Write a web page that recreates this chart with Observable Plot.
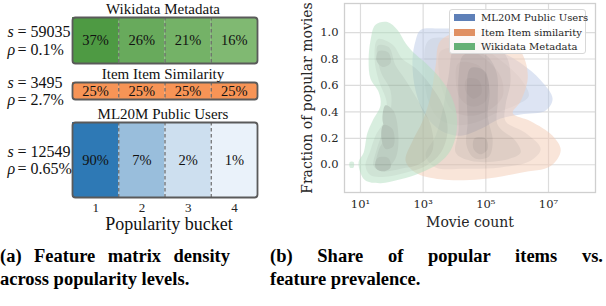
<!DOCTYPE html>
<html><head><meta charset="utf-8">
<script src="https://cdn.jsdelivr.net/npm/d3@7"></script>
<script src="https://cdn.jsdelivr.net/npm/@observablehq/plot@0.6"></script>
<style>
body{margin:0;background:#fff;}
#fig{position:relative;width:606px;height:306px;overflow:hidden;font-family:'Liberation Serif','Times New Roman',serif;background:#fff;}
.abs{position:absolute;}
.cap{position:absolute;font-family:'Liberation Serif','Times New Roman',serif;font-weight:bold;font-size:18.5px;line-height:23px;color:#000;}
.cap .l1{text-align:justify;text-align-last:justify;white-space:nowrap;}
#legend{position:absolute;left:449px;top:9px;width:137px;height:45px;border:1px solid #d8d8d8;border-radius:3px;background:rgba(255,255,255,0.85);font-family:'DejaVu Serif',serif;font-size:10px;color:#262626;box-sizing:border-box;}
#legend .row{position:absolute;left:4px;height:14px;line-height:14px;white-space:nowrap;}
#legend .sw{display:inline-block;width:21px;height:7px;vertical-align:middle;margin-right:6px;margin-top:-2px;}
</style></head><body><div id="fig"></div>
<script>
// ---------- data: panel (a) ----------
const buckets = [1, 2, 3, 4];
const rowTitles = ["Wikidata Metadata", "Item Item Similarity", "ML20M Public Users"];
const rowSizes = [59035, 3495, 12549];
const rowDensities = ["0.1%", "2.7%", "0.65%"];
const wikidataShares = [37, 26, 21, 16];
const itemShares = [25, 25, 25, 25];
const ml20mShares = [90, 7, 2, 1];

// ---------- data: panel (b) (contours: [log10 movie count, fraction]) ----------
const seriesNames = ["ML20M Public Users", "Item Item similarity", "Wikidata Metadata"];
const xTickValues = [10, 1e3, 1e5, 1e7];
const yTickValues = [0, 0.2, 0.4, 0.6, 0.8, 1.0];
const ml20mContours = [
  {level: 0, points: [[2.92,1.02],[3.56,1.03],[4.19,1.02],[4.83,0.95],[5.47,0.86],[6.11,0.77],[6.75,0.64],[7.13,0.50],[6.91,0.41],[6.11,0.38],[5.47,0.35],[4.83,0.27],[4.19,0.22],[3.56,0.26],[3.08,0.37],[2.76,0.56],[2.66,0.79],[2.76,0.94]]},
  {level: 1, points: [[3.17,0.94],[4.04,0.95],[4.77,0.90],[5.47,0.79],[6.11,0.65],[6.37,0.52],[5.95,0.45],[5.31,0.39],[4.67,0.32],[4.04,0.30],[3.49,0.35],[3.17,0.48],[3.04,0.71]]},
  {level: 2, points: [[3.56,0.86],[4.35,0.88],[4.99,0.80],[5.47,0.67],[5.54,0.52],[5.15,0.42],[4.51,0.37],[3.94,0.41],[3.62,0.56],[3.49,0.73]]},
  {level: 3, points: [[4.13,0.77],[4.77,0.75],[5.09,0.62],[4.99,0.48],[4.58,0.44],[4.19,0.50],[4.04,0.64]]},
  {level: 4, points: [[4.39,0.65],[4.77,0.64],[4.86,0.54],[4.61,0.50],[4.35,0.56]]}
];
const itemContours = [
  {level: 0, points: [[3.56,0.94],[4.51,1.02],[5.47,0.98],[6.11,0.86],[6.34,0.67],[6.11,0.48],[5.86,0.39],[6.43,0.33],[7.13,0.22],[7.39,0.11],[7.07,-0.01],[6.11,-0.06],[4.83,-0.11],[3.56,-0.11],[2.76,-0.06],[2.44,0.03],[2.66,0.18],[2.98,0.33],[3.24,0.52],[3.40,0.75]]},
  {level: 1, points: [[4.04,0.90],[4.99,0.92],[5.63,0.83],[5.79,0.64],[5.63,0.45],[5.63,0.33],[6.27,0.24],[6.75,0.12],[6.43,0.03],[5.47,-0.02],[4.35,-0.03],[3.40,-0.02],[3.08,0.07],[3.40,0.22],[3.62,0.41],[3.81,0.67]]},
  {level: 2, points: [[4.29,0.83],[4.99,0.83],[5.34,0.70],[5.38,0.48],[5.38,0.30],[5.95,0.18],[6.11,0.09],[5.47,0.03],[4.51,0.03],[4.04,0.09],[4.13,0.26],[4.13,0.48],[4.13,0.67]]},
  {level: 3, points: [[4.51,0.73],[4.96,0.71],[5.12,0.56],[5.06,0.37],[5.22,0.18],[5.09,0.06],[4.64,0.05],[4.39,0.14],[4.42,0.33],[4.39,0.55]]},
  {level: 4, points: [[4.64,0.20],[4.99,0.20],[5.06,0.12],[4.83,0.08],[4.61,0.12]]}
];
const wikidataContours = [
  {level: 0, points: [[1.48,1.06],[1.86,1.08],[2.18,1.02],[2.44,0.92],[2.69,0.85],[3.08,0.77],[3.49,0.67],[3.81,0.56],[4.04,0.42],[4.07,0.26],[3.88,0.11],[3.49,0.01],[2.92,-0.06],[2.28,-0.11],[1.64,-0.14],[1.16,-0.12],[1.00,-0.06],[0.94,0.02],[1.10,0.09],[1.22,0.24],[1.38,0.33],[1.64,0.45],[1.58,0.55],[1.32,0.65],[1.26,0.79],[1.32,0.94]]},
  {level: 0, points: [[0.66,0.02],[0.78,0.02],[0.78,-0.02],[0.66,-0.02]]},
  {level: 1, points: [[1.55,0.95],[2.02,0.91],[2.34,0.80],[2.76,0.73],[3.24,0.60],[3.62,0.45],[3.78,0.26],[3.56,0.09],[3.08,-0.01],[2.44,-0.06],[1.80,-0.09],[1.32,-0.08],[1.16,-0.01],[1.32,0.11],[1.48,0.22],[1.80,0.35],[1.83,0.48],[1.58,0.64],[1.45,0.80]]},
  {level: 2, points: [[1.55,0.90],[1.90,0.89],[2.12,0.75],[2.44,0.64],[2.85,0.48],[3.24,0.30],[3.30,0.11],[2.92,0.01],[2.28,-0.03],[1.70,-0.05],[1.42,-0.01],[1.51,0.11],[1.73,0.26],[1.96,0.41],[1.96,0.56],[1.64,0.71]]},
  {level: 3, points: [[1.58,0.86],[1.89,0.85],[1.96,0.77],[1.70,0.74],[1.51,0.79]]},
  {level: 3, points: [[1.80,0.45],[2.05,0.41],[2.21,0.22],[2.12,0.05],[1.80,-0.03],[1.51,-0.01],[1.58,0.11],[1.80,0.22],[1.70,0.35]]},
  {level: 4, points: [[1.54,0.05],[1.89,0.05],[1.96,-0.02],[1.70,-0.05],[1.48,-0.02]]},
  {level: 4, points: [[1.73,0.30],[2.02,0.27],[2.05,0.14],[1.80,0.12],[1.67,0.20]]}
];

const SERIF = "Liberation Serif";
const fig = document.getElementById("fig");
function place(node, left, top) {
  const d = document.createElement("div");
  d.className = "abs"; d.style.left = left + "px"; d.style.top = top + "px";
  d.appendChild(node); fig.appendChild(d); return d;
}

// ---------- panel (a) ----------
function rowPlot(i, shares, fillOpt, colorOpt, top, marginTop, barH, marginBottom, showAxis) {
  const data = buckets.map((b, j) => ({bucket: b, share: shares[j]}));
  const T = {fontFamily: SERIF, fill: "#111"};
  const marks = [
    Plot.rect(data, {x1: d => d.bucket - 0.5, x2: d => d.bucket + 0.5, fill: fillOpt}),
    Plot.ruleX(buckets.slice(1), {x: d => d - 0.5, stroke: "#6a6a6a", strokeWidth: 1.2, strokeDasharray: "3.5,2.5"}),
    Plot.text(data, {...T, x: "bucket", text: d => d.share + "%", frameAnchor: "middle", fontSize: 14.5}),
    Plot.frame({stroke: "#5a5a5a", strokeWidth: 1.8, rx: 3}),
    Plot.text([rowTitles[i]], {...T, frameAnchor: "top", dx: -2, dy: -4, lineAnchor: "bottom", fontSize: 15}),
    Plot.text(["s"], {...T, frameAnchor: "left", dx: -65, dy: -8.5, textAnchor: "start", fontStyle: "italic", fontSize: 16}),
    Plot.text(["= " + rowSizes[i]], {...T, frameAnchor: "left", dx: -55, dy: -8.5, textAnchor: "start", fontSize: 16}),
    Plot.text(["ρ"], {...T, frameAnchor: "left", dx: -65, dy: 9, textAnchor: "start", fontStyle: "italic", fontSize: 16}),
    Plot.text(["= " + rowDensities[i]], {...T, frameAnchor: "left", dx: -55, dy: 9, textAnchor: "start", fontSize: 16})
  ];
  if (showAxis) {
    marks.push(Plot.axisX(buckets, {tickSize: 0, tickPadding: 5, fontSize: 13, fontFamily: SERIF, label: null, tickFormat: d => String(d), fill: "#222"}));
    marks.push(Plot.text(["Popularity bucket"], {...T, frameAnchor: "bottom", dx: 4, dy: 27, lineAnchor: "middle", fontSize: 18}));
  }
  const p = Plot.plot({
    width: 300, height: marginTop + barH + marginBottom,
    marginLeft: 72, marginRight: 43, marginTop, marginBottom,
    style: {fontFamily: SERIF, fontSize: "13px", background: "transparent", overflow: "visible"},
    x: {domain: [0.5, 4.5], axis: null},
    color: colorOpt,
    marks
  });
  place(p, 0, top);
}
rowPlot(0, wikidataShares, "share", {type: "linear", domain: [16, 37], range: ["#80b972", "#4e9a43"]}, 0, 17, 46, 0, false);
rowPlot(1, itemShares, "#f79456", undefined, 63, 19, 17, 0, false);
rowPlot(2, ml20mShares, "share", {type: "log", domain: [1, 90], range: ["#eaf2fa", "#2e79b5"]}, 99, 23, 75, 45, true);

// ---------- panel (b) ----------
const RSERIF = "DejaVu Serif";
const baseColors = ["#4c72b0", "#dd8452", "#55a868"];
const rampEnds = [["#bccbe8", "#6d7893"], ["#f4ccb5", "#907466"], ["#b2dfc0", "#6d8b75"]];
const groups = [ml20mContours, itemContours, wikidataContours];
const sup = {"1": "¹", "3": "³", "5": "⁵", "7": "⁷"};
const kdeMarks = [];
groups.forEach((g, gi) => {
  const interp = d3.interpolateHcl(rampEnds[gi][0], rampEnds[gi][1]);
  g.forEach(c => kdeMarks.push(Plot.line(c.points, {x: p => 10 ** p[0], y: p => p[1], fill: interp(c.level / 4), stroke: "none", curve: "catmull-rom-closed"})));
});
const right = Plot.plot({
  width: 306, height: 240,
  marginLeft: 44, marginRight: 11, marginTop: 3, marginBottom: 48,
  style: {fontFamily: RSERIF, fontSize: "11.5px", background: "transparent", color: "#262626"},
  x: {type: "log", domain: [10 ** 0.49, 10 ** 8.5], axis: null},
  y: {domain: [-0.21, 1.22], axis: null},
  marks: [
    Plot.gridX(xTickValues, {stroke: "#dcdcdc", strokeOpacity: 1, strokeWidth: 1.2}),
    Plot.gridY(yTickValues, {stroke: "#dcdcdc", strokeOpacity: 1, strokeWidth: 1.2}),
    ...kdeMarks,
    Plot.frame({stroke: "#cfcfcf", strokeWidth: 1.3}),
    Plot.axisX(xTickValues, {tickSize: 0, tickPadding: 7, label: null, fontSize: 11.5, fontFamily: RSERIF, fill: "#262626", tickFormat: d => "10" + sup[String(Math.round(Math.log10(d)))]}),
    Plot.axisY(yTickValues, {tickSize: 0, tickPadding: 6, label: null, fontSize: 11.5, fontFamily: RSERIF, fill: "#262626", tickFormat: d3.format(".1f")}),
    Plot.text(["Movie count"], {frameAnchor: "bottom", dy: 30, lineAnchor: "middle", fontSize: 14, fontFamily: RSERIF, fill: "#262626"}),
    Plot.text(["Fraction of popular movies"], {frameAnchor: "left", dx: -37, rotate: -90, textAnchor: "middle", lineAnchor: "middle", fontSize: 14, fontFamily: RSERIF, fill: "#262626"})
  ]
});
// group each series' contour levels so that the series is composited once with transparency
const lineGroups = [...right.querySelectorAll("g[aria-label='line']")];
let offset = 0;
groups.forEach(g => {
  const gs = lineGroups.slice(offset, offset + g.length);
  offset += g.length;
  if (!gs.length) return;
  const wrap = document.createElementNS("http://www.w3.org/2000/svg", "g");
  wrap.setAttribute("opacity", 0.5);
  gs[0].parentNode.insertBefore(wrap, gs[0]);
  gs.forEach(n => wrap.appendChild(n));
});
place(right, 300, 0);

// legend
const leg = document.createElement("div"); leg.id = "legend";
seriesNames.forEach((n, i) => {
  const r = document.createElement("div"); r.className = "row"; r.style.top = (1 + i * 14.5) + "px";
  const sw = document.createElement("span"); sw.className = "sw"; sw.style.background = baseColors[i]; sw.style.opacity = 0.9;
  r.appendChild(sw); r.appendChild(document.createTextNode(n)); leg.appendChild(r);
});
fig.appendChild(leg);

// captions
function caption(left, width, l1, l2) {
  const c = document.createElement("div"); c.className = "cap";
  c.style.left = left + "px"; c.style.top = "245px"; c.style.width = width + "px";
  const a = document.createElement("div"); a.className = "l1"; a.textContent = l1;
  const b = document.createElement("div"); b.textContent = l2;
  c.appendChild(a); c.appendChild(b); fig.appendChild(c);
}
caption(0, 230, "(a) Feature matrix density", "across popularity levels.");
caption(270, 333, "(b) Share of popular items vs.", "feature prevalence.");
</script></body></html>
